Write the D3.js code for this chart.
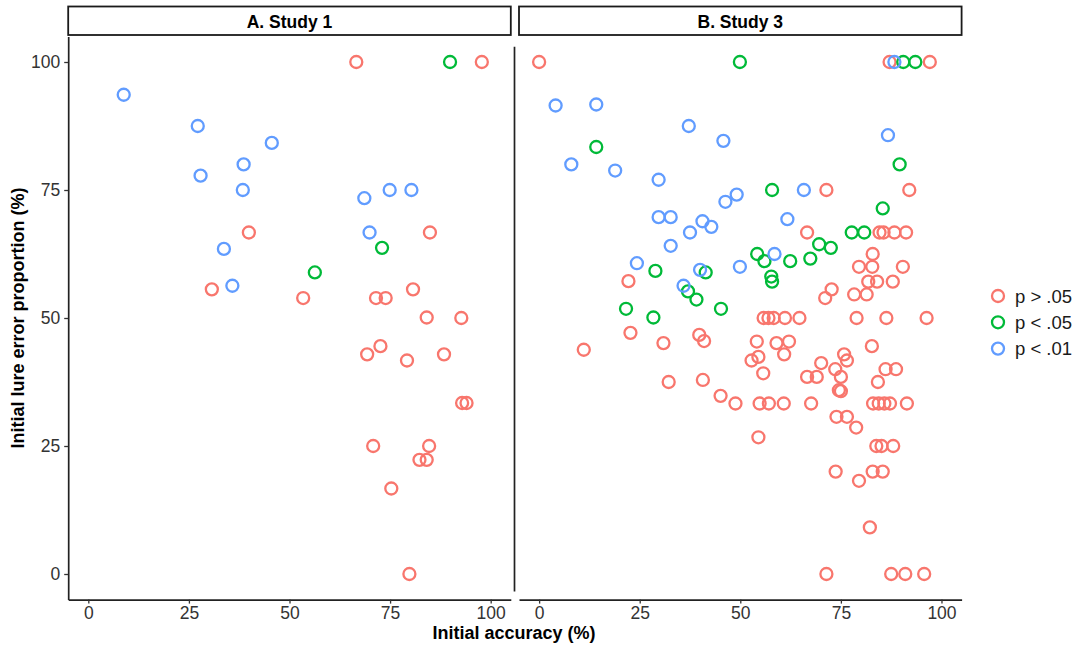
<!DOCTYPE html>
<html>
<head>
<meta charset="utf-8">
<script src="https://cdn.jsdelivr.net/npm/d3@7"></script>
<style>
  body { margin: 0; background: #fff; }
  svg text { font-family: "Liberation Sans", Arial, sans-serif; }
</style>
</head>
<body>
<div id="chart"></div>
<script>
// Study 1 points: [initial accuracy, initial lure error proportion]
const study1Ns = [[66.6,100],[97.8,100],[39.9,66.7],[84.9,66.7],[30.7,55.6],[53.4,53.9],[71.5,53.9],[73.9,53.9],
  [80.7,55.6],[84.1,50.1],[92.7,50],[69.3,42.9],[72.6,44.5],[79.2,41.7],[88.4,42.9],[92.9,33.4],[94.0,33.4],
  [70.8,25],[84.7,25],[82.3,22.3],[84.1,22.3],[75.3,16.7],[79.8,0]];
const study1P05 = [[89.9,100],[73.0,63.7],[56.3,58.9]];
const study1P01 = [[8.8,93.6],[27.2,87.5],[45.6,84.2],[38.6,80.0],[27.9,77.8],[38.4,75],[68.6,73.4],[74.9,75],
  [80.3,75],[69.9,66.7],[33.7,63.5],[35.8,56.3]];

// Study 3 points
const study3Ns = [[0,100],[87.1,100],[97.1,100],[71.4,75],[92.0,75],[66.6,66.7],[84.6,66.7],[85.6,66.7],[88.3,66.7],
  [91.2,66.7],[82.9,62.5],[79.5,60],[82.8,60],[90.4,60],[81.8,57.1],[84.0,57.1],[87.9,57.1],[22.2,57.2],
  [72.7,55.6],[71.1,53.9],[78.3,54.6],[81.4,54.6],[55.8,50],[57.0,50],[58.3,50],[61.1,50],[64.7,50],[78.9,50],
  [86.3,50],[96.3,50],[22.7,47.1],[11.1,43.8],[30.9,45.1],[39.8,46.7],[41.0,45.5],[54.1,45.4],[52.8,41.7],
  [54.5,42.4],[59.0,45.1],[62.1,45.4],[60.9,42.9],[82.7,44.5],[75.8,42.9],[76.5,41.7],[70.1,41.2],[73.6,40],
  [86.1,40],[88.7,40],[55.7,39.2],[32.2,37.5],[40.7,37.9],[66.6,38.5],[69.0,38.5],[75.0,38.5],[84.2,37.5],
  [74.5,35.9],[75.0,35.7],[45.1,34.8],[48.8,33.3],[54.8,33.3],[57.1,33.3],[60.8,33.3],[67.6,33.3],[83.0,33.3],
  [84.4,33.3],[85.8,33.3],[87.2,33.3],[91.4,33.3],[73.9,30.7],[76.5,30.7],[78.8,28.6],[54.5,26.7],[83.8,25],
  [85.1,25],[88.0,25],[73.7,20],[82.9,20],[85.4,20],[79.5,18.2],[82.2,9.1],[71.4,0],[87.5,0],[91.0,0],[95.7,0]];
const study3P05 = [[49.9,100],[90.5,100],[93.5,100],[14.2,83.4],[89.6,80],[57.9,75],[85.4,71.4],[77.7,66.7],
  [80.8,66.7],[69.6,64.4],[72.5,63.7],[54.2,62.5],[56.0,61.1],[62.4,61.1],[67.4,61.6],[28.9,59.2],[41.4,58.9],
  [57.7,58.1],[57.9,57.1],[37.0,55.2],[39.1,53.6],[21.6,51.8],[45.2,51.8],[28.4,50.1]];
const study3P01 = [[88.3,100],[4.1,91.5],[14.2,91.7],[37.2,87.5],[45.8,84.6],[86.7,85.7],[8.0,80],[18.9,78.8],
  [29.7,77],[65.8,75],[46.3,72.7],[49.1,74.1],[29.7,69.7],[32.7,69.7],[40.6,68.9],[42.8,67.8],[37.5,66.7],
  [61.7,69.3],[32.7,64.1],[24.3,60.7],[58.5,62.5],[40.0,59.4],[49.9,60],[35.9,56.3]];

const groups = ["p > .05", "p < .05", "p < .01"];
const groupColors = ["#F8766D", "#00BA38", "#619CFF"];
const ticks = [0, 25, 50, 75, 100];
const panels = [
  {title: "A. Study 1", sets: [study1Ns, study1P05, study1P01]},
  {title: "B. Study 3", sets: [study3Ns, study3P05, study3P01]}
];

const W = 1087, H = 648;
const svg = d3.select("#chart").append("svg").attr("width", W).attr("height", H);

const color = d3.scaleOrdinal().domain(groups).range(groupColors);
const y = d3.scaleLinear().domain([-5, 105]).range([599.6, 36.4]);
const panelLeft = [68.2, 519];
const panelW = 442.6;
const tickFont = "17.5px";

panels.forEach((p, pi) => {
  const x = d3.scaleLinear().domain([-5, 105]).range([panelLeft[pi], panelLeft[pi] + panelW]);
  const g = svg.append("g");

  // strip
  g.append("rect")
    .attr("x", x(-5)).attr("y", 6.5)
    .attr("width", panelW).attr("height", 28.5)
    .attr("fill", "#fff").attr("stroke", "#1a1a1a").attr("stroke-width", 1.8);
  g.append("text")
    .attr("x", x(50)).attr("y", 27.5)
    .attr("text-anchor", "middle")
    .style("font-size", "17.5px").style("font-weight", "bold")
    .text(p.title);

  // points
  p.sets.forEach((set, si) => {
    g.selectAll(null).data(set).enter().append("circle")
      .attr("cx", d => x(d[0]))
      .attr("cy", d => y(d[1]))
      .attr("r", 6)
      .attr("fill", "none")
      .attr("stroke", color(groups[si]))
      .attr("stroke-width", 2.3);
  });

  // x axis
  const xa = g.append("g")
    .attr("transform", `translate(0,${y(-5)})`)
    .call(d3.axisBottom(x).tickValues(ticks).tickSize(4).tickPadding(3).tickSizeOuter(0));
  xa.select(".domain").attr("stroke", "#222").attr("stroke-width", 1.7);
  xa.selectAll(".tick line").attr("stroke", "#333").attr("stroke-width", 1.3);
  xa.selectAll("text").style("font-size", tickFont).attr("fill", "#333")
    .style("font-family", "Liberation Sans, Arial, sans-serif");

  if (pi === 0) {
    const ya = g.append("g")
      .attr("transform", `translate(${x(-5)},0)`)
      .call(d3.axisLeft(y).tickValues(ticks).tickSize(4).tickPadding(4).tickSizeOuter(0));
    ya.select(".domain").attr("stroke", "#222").attr("stroke-width", 1.7);
    ya.selectAll(".tick line").attr("stroke", "#333").attr("stroke-width", 1.3);
    ya.selectAll("text").style("font-size", tickFont).attr("fill", "#333")
      .style("font-family", "Liberation Sans, Arial, sans-serif");
  } else {
    // left axis line of the second panel (sits a little left of the panel)
    g.append("line")
      .attr("x1", x(-5) - 4.5).attr("x2", x(-5) - 4.5)
      .attr("y1", y(103)).attr("y2", y(-3.4))
      .attr("stroke", "#222").attr("stroke-width", 1.7);
  }
});

// axis titles
svg.append("text")
  .attr("x", 514).attr("y", 639)
  .attr("text-anchor", "middle")
  .style("font-size", "18px").style("font-weight", "bold")
  .text("Initial accuracy (%)");
svg.append("text")
  .attr("transform", `translate(24,${y(50)}) rotate(-90)`)
  .attr("text-anchor", "middle")
  .style("font-size", "18px").style("font-weight", "bold")
  .text("Initial lure error proportion (%)");

// legend
const legend = svg.append("g").attr("transform", "translate(998,296)");
groups.forEach((gname, i) => {
  legend.append("circle")
    .attr("cx", 0).attr("cy", i * 26.3)
    .attr("r", 6).attr("fill", "none")
    .attr("stroke", color(gname)).attr("stroke-width", 2.3);
  legend.append("text")
    .attr("x", 17).attr("y", i * 26.3 + 6.5)
    .style("font-size", "18.5px").attr("fill", "#1a1a1a")
    .text(gname);
});
</script>
</body>
</html>
